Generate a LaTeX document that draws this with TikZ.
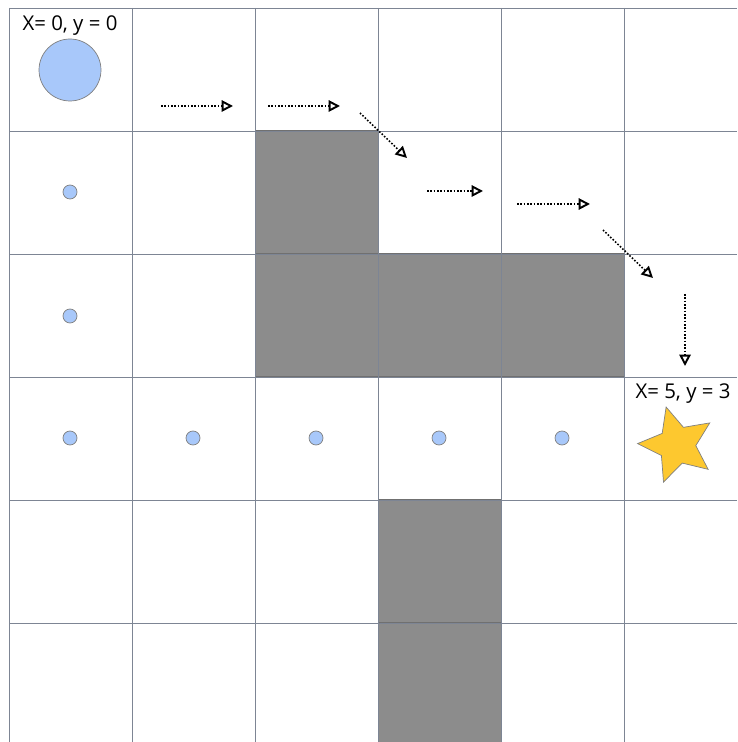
\documentclass[tikz,border=0pt]{standalone}
\usepackage{fontspec}
\setmainfont{Open Sans}
\usetikzlibrary{arrows.meta,shapes.geometric}
\definecolor{gridline}{HTML}{7D8594}
\definecolor{wall}{HTML}{8C8C8C}
\definecolor{agent}{HTML}{A8C8FA}
\definecolor{goal}{HTML}{FDC82F}
\tikzset{
  cell/.style={fill=wall,draw=wall!80!black,line width=0.6pt},
  move/.style={black,line width=0.9pt,dash pattern=on 0.9pt off 1pt,
    -{Triangle[open,length=6.5pt,width=6.5pt,line width=1.1pt,sep=0pt]}},
  dot/.style={circle,fill=agent,draw=gray,line width=0.4pt,minimum size=0.28cm,inner sep=0pt},
  coordlabel/.style={anchor=base,font=\fontsize{11.6}{13}\selectfont,inner sep=0pt}
}

\begin{document}
\begin{tikzpicture}[x=0.02cm,y=-0.02cm]
  \useasboundingbox (0,0) rectangle (737,742);
  % blocked cells
  \foreach \c/\r in {2/1,2/2,3/2,4/2,3/4,3/5}
    \draw[cell] (9+123.1*\c,8+123*\r) rectangle ++(123.1,123);
  % grid
  \foreach \i in {0,...,5} {
    \draw[gridline,line width=0.55pt] (9+123.1*\i,8) -- (9+123.1*\i,742);
    \draw[gridline,line width=0.55pt] (9,8+123*\i) -- (737,8+123*\i);
  }
  % start and goal
  \node[circle,fill=agent,draw=gray,line width=0.4pt,minimum size=1.24cm,inner sep=0pt] (start) at (70,70) {};
  \node[coordlabel] (startlbl) at (70,31) {X= 0, y = 0};
  \node[star,star points=5,star point ratio=2.1,minimum size=1.58cm,inner sep=0pt,
        fill=goal,draw=gray,line width=0.4pt,rotate=16] (goal) at (677,445) {};
  \node[coordlabel] (goallbl) at (683,398) {X= 5, y = 3};
  % path cells
  \node[dot] (p1) at (70,192) {};
  \node[dot] (p2) at (70,316) {};
  \node[dot] (p3) at (70,438) {};
  \node[dot] (p4) at (193,438) {};
  \node[dot] (p5) at (316,438) {};
  \node[dot] (p6) at (439,438) {};
  \node[dot] (p7) at (562,438) {};
  % moves
  \coordinate (m1a) at (161,106); \coordinate (m1b) at (233,106);
  \coordinate (m2a) at (268,106); \coordinate (m2b) at (340,106);
  \coordinate (m3a) at (360,113); \coordinate (m3b) at (407,158);
  \coordinate (m4a) at (427,191); \coordinate (m4b) at (483,191);
  \coordinate (m5a) at (517,204); \coordinate (m5b) at (590,204);
  \coordinate (m6a) at (603,230); \coordinate (m6b) at (653,278);
  \coordinate (m7a) at (685,294); \coordinate (m7b) at (685,366);
  \draw[move] (m1a) -- (m1b);
  \draw[move] (m2a) -- (m2b);
  \draw[move] (m3a) -- (m3b);
  \draw[move] (m4a) -- (m4b);
  \draw[move] (m5a) -- (m5b);
  \draw[move] (m6a) -- (m6b);
  \draw[move] (m7a) -- (m7b);
\end{tikzpicture}
\end{document}
